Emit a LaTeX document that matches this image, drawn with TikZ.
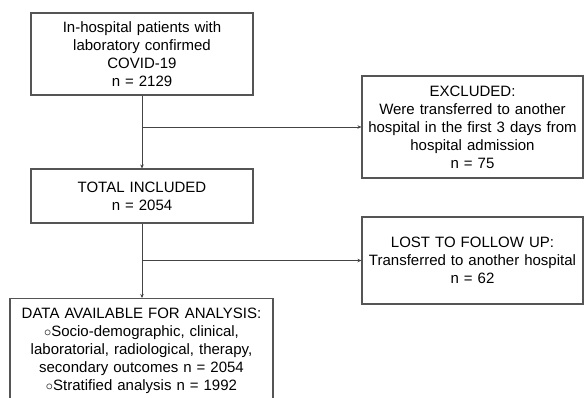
\documentclass[tikz,border=0pt]{standalone}
\usepackage{fontspec}
\setmainfont{Liberation Sans}
\definecolor{boxgray}{HTML}{555555}
\definecolor{linegray}{HTML}{444444}
\tikzset{
  flowbox/.style={draw=boxgray,line width=1.1pt,align=center,inner xsep=3pt,
    font=\fontsize{15}{18}\selectfont},
  flowline/.style={linegray,line width=0.9pt,-{Stealth[length=4pt,width=3.5pt]}}
}
\usetikzlibrary{arrows.meta}
\begin{document}
\begin{tikzpicture}[x=1pt,y=-1pt]
    \useasboundingbox (0,0) rectangle (584,397);

    \node[flowbox,text width=216pt,minimum height=82pt] (cases) at (142,54)
      {In-hospital patients with\\laboratory confirmed\\COVID-19\\n = 2129};
    \node[flowbox,text width=216pt,minimum height=54pt] (incl) at (142,196)
      {TOTAL INCLUDED\\n = 2054};
    \node[flowbox,text width=257pt,minimum height=105pt,anchor=north] (data) at (141.5,298)
      {DATA AVAILABLE FOR ANALYSIS:\\$\circ$Socio-demographic, clinical,\\laboratorial, radiological, therapy,\\secondary outcomes n = 2054\\$\circ$Stratified analysis n = 1992};

    \node[flowbox,text width=215pt,minimum height=102pt] (excl) at (472.5,127)
      {EXCLUDED:\\Were transferred to another\\hospital in the first 3 days from\\hospital admission\\n = 75};
    \node[flowbox,text width=215pt,minimum height=87pt] (lost) at (472.5,260.5)
      {LOST TO FOLLOW UP:\\Transferred to another hospital\\n = 62};

    \coordinate (split1) at (cases.south |- excl.west);
    \coordinate (split2) at (incl.south |- lost.west);

    \draw[flowline] (cases.south) -- (incl.north);
    \draw[flowline] (incl.south) -- (incl.south |- data.north);
    \draw[flowline] (split1) -- (excl.west);
    \draw[flowline] (split2) -- (lost.west);
  \end{tikzpicture}
\end{document}
